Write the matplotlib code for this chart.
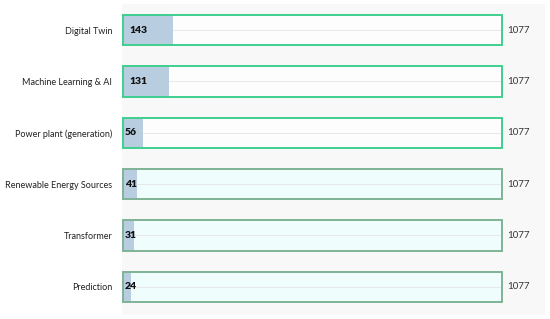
import matplotlib.pyplot as plt

categories = ["Digital Twin", "Machine Learning & AI", "Power plant (generation)",
              "Renewable Energy Sources", "Transformer", "Prediction"]
counts = [143, 131, 56, 41, 31, 24]
totals = [1077, 1077, 1077, 1077, 1077, 1077]

plt.rcParams['font.family'] = ['Lato', 'DejaVu Sans']

fig = plt.figure(figsize=(5.5, 3.19), dpi=100)
ax = fig.add_axes([122 / 550, 4 / 319, 423 / 550, 311 / 319])
ax.set_facecolor("#f8f8f8")

ypos = list(range(len(categories)))
h = 0.59

for i, (c, t) in enumerate(zip(counts, totals)):
    # rows further down look highlighted in the original
    if i < 3:
        edge, inner = "#3ecf8e", "#fdfdfd"
    else:
        edge, inner = "#7fb395", "#effefc"
    ax.barh(i, t, height=h, left=0, color=inner, edgecolor="none", zorder=1)
    ax.barh(i, c, height=h, left=0, color="#b9cde0", edgecolor="none", zorder=2)
    ax.plot([c, t], [i, i], color="#e6e6e6", lw=0.6, zorder=2)
    ax.barh(i, t, height=h, left=0, color="none", edgecolor=edge, linewidth=1.4, zorder=3)
    off = 5 if c > 100 else 1.5
    ax.annotate(str(c), (0, i), xytext=(off, 0), textcoords="offset points",
                ha="left", va="center", fontsize=7.5, fontweight="heavy", color="#111111", zorder=4)
    ax.annotate(str(t), (t, i), xytext=(4, 0), textcoords="offset points",
                ha="left", va="center", fontsize=7, color="#333333")

ax.set_xlim(-2.8, 1199)
ax.set_ylim(5.55, -0.51)
ax.set_yticks(ypos)
ax.set_yticklabels(categories, fontsize=6.5, color="#222222")
ax.tick_params(axis="y", length=0, pad=7)
ax.set_xticks([])
for s in ax.spines.values():
    s.set_visible(False)

fig.savefig("out.png", dpi=100, facecolor="white")
